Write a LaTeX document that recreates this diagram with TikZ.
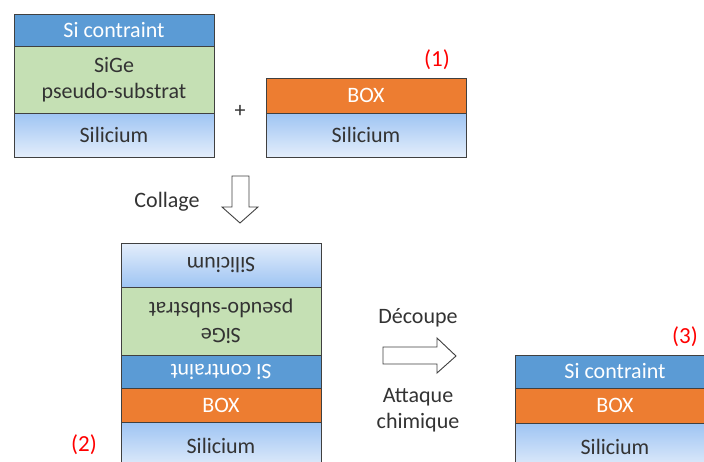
\documentclass[tikz,border=0pt]{standalone}
\usepackage{fontspec}
\setmainfont{Carlito}
\usetikzlibrary{positioning}

\definecolor{bordure}{HTML}{404040}
\definecolor{texte}{HTML}{333333}
\definecolor{sicontr}{HTML}{5B9BD5}
\definecolor{sige}{HTML}{C5E0B4}
\definecolor{oxyde}{HTML}{ED7D31}
\definecolor{sihaut}{HTML}{9EC4F3}
\definecolor{sibas}{HTML}{E4EEFB}
\definecolor{rouge}{HTML}{FF0000}

\tikzset{
    couche/.style={draw=bordure, line width=0.9pt, minimum width=200pt, inner sep=0pt,
        outer sep=0pt, align=center, text=texte, font=\fontsize{22}{26}\selectfont},
    sicouche/.style={couche, top color=sihaut, bottom color=sibas},
    sicouchebas/.style={couche, top color=sibas, bottom color=sihaut},
    sigecouche/.style={couche, fill=sige},
    contrcouche/.style={couche, fill=sicontr, text=white},
    boxcouche/.style={couche, fill=oxyde, text=white},
    etiquette/.style={text=texte, align=center, font=\fontsize{22}{26}\selectfont},
    numero/.style={text=rouge, inner sep=1pt, font=\fontsize{23}{26}\selectfont},
    fleche/.style={draw=bordure, line width=0.9pt, fill=white, line join=miter}
}

\begin{document}
\begin{tikzpicture}[x=1pt, y=-1pt]
    \useasboundingbox (0,0) rectangle (704,461);
    \clip (0,0) rectangle (704,461);

    % empilement de depart
    \node[contrcouche, minimum height=32pt, anchor=north west] (a1) at (14,14) {Si contraint};
    \node[sigecouche, minimum height=67pt, below=0pt of a1] (a2) {SiGe\\pseudo-substrat};
    \node[sicouche, minimum height=44pt, below=0pt of a2] (a3) {Silicium};

    \node[etiquette] (plus) at (240,111) {+};

    % substrat oxyde
    \node[boxcouche, minimum height=35pt, anchor=north west] (b1) at (266,78) {BOX};
    \node[sicouche, minimum height=44pt, below=0pt of b1] (b2) {Silicium};
    \node[numero] (n1) at (437,60) {(1)};

    % collage
    \node[etiquette] (collage) at (167,202) {Collage};
    \draw[fleche] (232,176) -- (249,176) -- (249,207) -- (258,207) -- (240,223)
        -- (222,207) -- (232,207) -- cycle;

    % empilement colle
    \node[sicouchebas, minimum height=44pt, anchor=north west] (c1) at (121,243) {\rotatebox{180}{Silicium}};
    \node[sigecouche, minimum height=68pt, below=0pt of c1] (c2) {\rotatebox{180}{\begin{tabular}{@{}c@{}}SiGe\\pseudo-substrat\end{tabular}}};
    \node[contrcouche, minimum height=33pt, below=0pt of c2] (c3) {\rotatebox{180}{Si contraint}};
    \node[boxcouche, minimum height=34pt, below=0pt of c3] (c4) {BOX};
    \node[sicouche, minimum height=48pt, below=0pt of c4] (c5) {Silicium};
    \node[numero] (n2) at (84,445) {(2)};

    % decoupe et attaque
    \node[etiquette] (decoupe) at (418,318) {Découpe};
    \draw[fleche] (383,347) -- (437,347) -- (437,338) -- (456,356) -- (437,373)
        -- (437,364) -- (383,364) -- cycle;
    \node[etiquette] (attaque) at (418,410) {Attaque\\chimique};

    % empilement final
    \node[contrcouche, minimum height=33pt, anchor=north west] (d1) at (515,355) {Si contraint};
    \node[boxcouche, minimum height=35pt, below=0pt of d1] (d2) {BOX};
    \node[sicouche, minimum height=48pt, below=0pt of d2] (d3) {Silicium};
    \node[numero] (n3) at (685,337) {(3)};
\end{tikzpicture}
\end{document}
